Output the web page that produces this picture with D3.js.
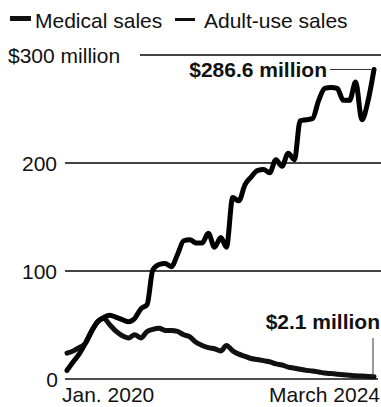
<!DOCTYPE html>
<html>
<head>
<meta charset="utf-8">
<script src="https://cdn.jsdelivr.net/npm/d3@7"></script>
<style>
  html, body { margin: 0; padding: 0; background: #fff; }
  svg { display: block; font-family: "Liberation Sans", Arial, sans-serif; }
</style>
</head>
<body>
<svg id="chart" width="381" height="407"></svg>
<script>
// Monthly sales, Jan. 2020 through March 2024, in millions of dollars
const startMonth = new Date(2020, 0, 1);
const endMonth = new Date(2024, 2, 1);

const adultUseSales = [
  8, 16, 23, 33, 44, 53, 57, 59, 57, 55, 53, 56,
  65, 69, 101, 106, 107, 104, 115, 128, 129, 126, 126, 135,
  122, 131, 122, 168, 165, 180, 187, 193, 194, 191, 203, 197,
  209, 203, 239, 240, 241, 258, 269, 270, 269, 258, 258, 275,
  240, 258, 286.6
];

const medicalSales = [
  24, 26, 29, 33, 44, 53, 56, 50, 44, 40, 38, 41,
  38, 44, 46, 47, 45, 45, 44, 41, 39, 34, 31, 29,
  28, 26, 31, 26, 23, 21, 19, 18, 17, 16, 14, 13,
  11, 10, 9, 8, 7.5, 6.5, 5.5, 5, 4.5, 4, 3.5, 3,
  2.8, 2.4, 2.1
];

const yTicks = [100, 200];
const yTopTick = 300;
const xTickLabels = ["Jan. 2020", "March 2024"];
const legendLabels = ["Medical sales", "Adult-use sales"];

const months = d3.timeMonth.range(startMonth, d3.timeMonth.offset(endMonth, 1));

const svg = d3.select("#chart");
const fontSize = 21;

const x = d3.scaleTime().domain([startMonth, endMonth]).range([67, 374]);
const y = d3.scaleLinear().domain([0, 300]).range([379, 55]);

// Legend
const legend = svg.append("g");
legend.append("rect").attr("x", 10).attr("y", 16).attr("width", 21).attr("height", 5).attr("fill", "#111");
legend.append("text").attr("x", 35).attr("y", 28).attr("font-size", fontSize).attr("fill", "#111").text(legendLabels[0]);
legend.append("rect").attr("x", 175).attr("y", 18).attr("width", 20).attr("height", 3).attr("fill", "#111");
legend.append("text").attr("x", 204).attr("y", 28).attr("font-size", fontSize).attr("fill", "#111").text(legendLabels[1]);

// Horizontal gridlines with labels
const grid = svg.append("g");
grid.selectAll("line.grid")
  .data(yTicks)
  .join("line")
  .attr("class", "grid")
  .attr("x1", 65).attr("x2", 381)
  .attr("y1", d => y(d)).attr("y2", d => y(d))
  .attr("stroke", "#444").attr("stroke-width", 2);
grid.selectAll("text.tick")
  .data(yTicks)
  .join("text")
  .attr("class", "tick")
  .attr("x", 57).attr("y", d => y(d) + 7.5)
  .attr("text-anchor", "end")
  .attr("font-size", fontSize).attr("fill", "#111")
  .text(d => d);

grid.append("line")
  .attr("x1", 140).attr("x2", 381)
  .attr("y1", y(yTopTick)).attr("y2", y(yTopTick))
  .attr("stroke", "#444").attr("stroke-width", 2);
grid.append("text")
  .attr("x", 8).attr("y", y(yTopTick) + 8)
  .attr("font-size", fontSize).attr("fill", "#111")
  .text(`$${yTopTick} million`);

// Baseline and x labels
svg.append("line")
  .attr("x1", 65).attr("x2", 378)
  .attr("y1", y(0)).attr("y2", y(0))
  .attr("stroke", "#111").attr("stroke-width", 1.5);
svg.append("text")
  .attr("x", 58).attr("y", y(0) + 8)
  .attr("text-anchor", "end")
  .attr("font-size", fontSize).attr("fill", "#111")
  .text("0");
svg.append("text")
  .attr("x", x(startMonth) - 5).attr("y", 402)
  .attr("font-size", fontSize).attr("fill", "#111")
  .text(xTickLabels[0]);
svg.append("text")
  .attr("x", 380).attr("y", 402)
  .attr("text-anchor", "end")
  .attr("font-size", fontSize).attr("fill", "#111")
  .text(xTickLabels[1]);

// Series lines
const line = d3.line()
  .x((d, i) => x(months[i]))
  .y(d => y(d))
  .curve(d3.curveMonotoneX);

svg.append("path")
  .datum(medicalSales)
  .attr("d", line)
  .attr("fill", "none")
  .attr("stroke", "#111")
  .attr("stroke-width", 5)
  .attr("stroke-linejoin", "round")
  .attr("stroke-linecap", "round");

svg.append("path")
  .datum(adultUseSales)
  .attr("d", line)
  .attr("fill", "none")
  .attr("stroke", "#000")
  .attr("stroke-width", 5)
  .attr("stroke-linejoin", "round")
  .attr("stroke-linecap", "round");

// End-value callouts
const lastIdx = months.length - 1;
const adultLast = adultUseSales[lastIdx];
const medLast = medicalSales[lastIdx];

svg.append("line")
  .attr("x1", 330).attr("x2", x(months[lastIdx]) - 3)
  .attr("y1", y(adultLast)).attr("y2", y(adultLast))
  .attr("stroke", "#333").attr("stroke-width", 1);
svg.append("text")
  .attr("x", 327).attr("y", 77)
  .attr("text-anchor", "end")
  .attr("font-size", fontSize).attr("font-weight", "bold").attr("fill", "#111")
  .text(`$${adultLast} million`);

svg.append("line")
  .attr("x1", x(months[lastIdx]) - 1).attr("x2", x(months[lastIdx]) - 1)
  .attr("y1", 338).attr("y2", y(medLast))
  .attr("stroke", "#333").attr("stroke-width", 1);
svg.append("text")
  .attr("x", 380).attr("y", 329)
  .attr("text-anchor", "end")
  .attr("font-size", fontSize).attr("font-weight", "bold").attr("fill", "#111")
  .text(`$${medLast} million`);
</script>
</body>
</html>
